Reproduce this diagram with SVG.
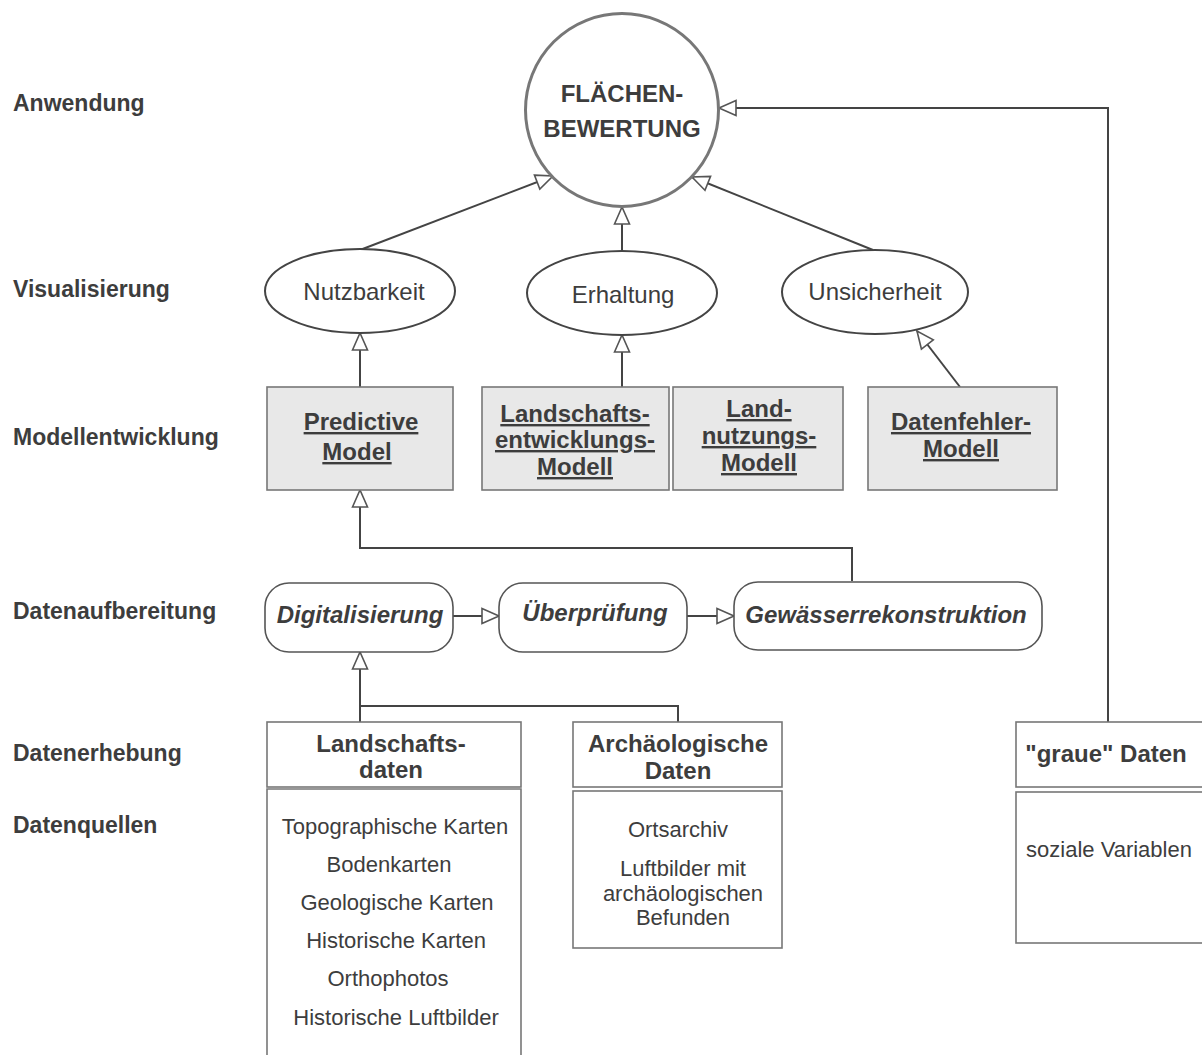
<svg xmlns="http://www.w3.org/2000/svg" width="1202" height="1055" viewBox="0 0 1202 1055">
<defs>
<style>
text{font-family:"Liberation Sans",Arial,sans-serif;fill:#3d3d3d}
.lbl{font-size:23px;font-weight:bold}
.b{font-size:24px;font-weight:bold;text-anchor:middle}
.u{text-decoration:underline}
.r{font-size:24px;text-anchor:middle}
.s{font-size:22px;text-anchor:middle}
.bi{font-size:24px;font-weight:bold;font-style:italic;text-anchor:middle}
.box{fill:#fff;stroke:#777;stroke-width:1.6}
.mbox{fill:#e8e8e8;stroke:#777;stroke-width:1.6}
.ell{fill:#fff;stroke:#444;stroke-width:2}
.pill{fill:#fff;stroke:#555;stroke-width:1.6}
.con{fill:none;stroke:#444;stroke-width:2}
</style>
<marker id="tri" markerUnits="userSpaceOnUse" markerWidth="21" markerHeight="19" viewBox="-2 -2 21 19" refX="17" refY="7.5" orient="auto">
<path d="M0,0 L17,7.5 L0,15 Z" fill="#fff" stroke="#555" stroke-width="1.6"/>
</marker>
</defs>
<rect width="1202" height="1055" fill="#fff"/>
<g id="levels">
<text class="lbl" x="13" y="111">Anwendung</text>
<text class="lbl" x="13" y="297">Visualisierung</text>
<text class="lbl" x="13" y="445">Modellentwicklung</text>
<text class="lbl" x="13" y="619">Datenaufbereitung</text>
<text class="lbl" x="13" y="761">Datenerhebung</text>
<text class="lbl" x="13" y="833">Datenquellen</text>
</g>
<g id="connectors">
<path class="con" d="M1108,722 V108 H719" marker-end="url(#tri)"/>
<path class="con" d="M360,250 L553,176" marker-end="url(#tri)"/>
<path class="con" d="M622,252 V207" marker-end="url(#tri)"/>
<path class="con" d="M873,250 L692,177" marker-end="url(#tri)"/>
<path class="con" d="M360,387 V333" marker-end="url(#tri)"/>
<path class="con" d="M622,387 V335" marker-end="url(#tri)"/>
<path class="con" d="M960,387 L917,331" marker-end="url(#tri)"/>
<path class="con" d="M852,581 V548 H360 V490" marker-end="url(#tri)"/>
<path class="con" d="M453,616 H499" marker-end="url(#tri)"/>
<path class="con" d="M687,616 H734" marker-end="url(#tri)"/>
<path class="con" d="M678,722 V706 H360"/>
<path class="con" d="M360,722 V652" marker-end="url(#tri)"/>
</g>
<g id="flaechenbewertung">
<circle cx="622" cy="110" r="96.5" fill="#fff" stroke="#777" stroke-width="3"/>
<text class="b" x="622" y="102">FLÄCHEN-</text>
<text class="b" x="622" y="137">BEWERTUNG</text>
</g>
<g id="nutzbarkeit">
<ellipse class="ell" cx="360" cy="291" rx="95" ry="42"/>
<text class="r" x="364" y="300">Nutzbarkeit</text>
</g>
<g id="erhaltung">
<ellipse class="ell" cx="622" cy="293" rx="95" ry="42"/>
<text class="r" x="623" y="303">Erhaltung</text>
</g>
<g id="unsicherheit">
<ellipse class="ell" cx="875" cy="292" rx="93" ry="42"/>
<text class="r" x="875" y="300">Unsicherheit</text>
</g>
<g id="predictive-model">
<rect class="mbox" x="267" y="387" width="186" height="103"/>
<text class="b u" x="361" y="430">Predictive</text>
<text class="b u" x="357" y="460">Model</text>
</g>
<g id="landschaftsentwicklungs-modell">
<rect class="mbox" x="482" y="387" width="187" height="103"/>
<text class="b u" x="575" y="422">Landschafts-</text>
<text class="b u" x="575" y="448">entwicklungs-</text>
<text class="b u" x="575" y="475">Modell</text>
</g>
<g id="landnutzungs-modell">
<rect class="mbox" x="673" y="387" width="170" height="103"/>
<text class="b u" x="759" y="417">Land-</text>
<text class="b u" x="759" y="444">nutzungs-</text>
<text class="b u" x="759" y="471">Modell</text>
</g>
<g id="datenfehler-modell">
<rect class="mbox" x="868" y="387" width="189" height="103"/>
<text class="b u" x="961" y="430">Datenfehler-</text>
<text class="b u" x="961" y="457">Modell</text>
</g>
<g id="digitalisierung">
<rect class="pill" x="265" y="583" width="188" height="69" rx="24"/>
<text class="bi" x="360" y="623">Digitalisierung</text>
</g>
<g id="ueberpruefung">
<rect class="pill" x="499" y="583" width="188" height="69" rx="24"/>
<text class="bi" x="595" y="621">Überprüfung</text>
</g>
<g id="gewaesserrekonstruktion">
<rect class="pill" x="734" y="582" width="308" height="68" rx="24"/>
<text class="bi" x="886" y="623">Gewässerrekonstruktion</text>
</g>
<g id="landschaftsdaten">
<rect class="box" x="267" y="722" width="254" height="65"/>
<text class="b" x="391" y="752">Landschafts-</text>
<text class="b" x="391" y="778">daten</text>
<path class="box" d="M267,1056 V789 H521 V1056"/>
<text class="s" x="395" y="834">Topographische Karten</text>
<text class="s" x="389" y="872">Bodenkarten</text>
<text class="s" x="397" y="910">Geologische Karten</text>
<text class="s" x="396" y="948">Historische Karten</text>
<text class="s" x="388" y="986">Orthophotos</text>
<text class="s" x="396" y="1025">Historische Luftbilder</text>
</g>
<g id="archaeologische-daten">
<rect class="box" x="573" y="722" width="209" height="65"/>
<text class="b" x="678" y="752">Archäologische</text>
<text class="b" x="678" y="779">Daten</text>
<rect class="box" x="573" y="791" width="209" height="157"/>
<text class="s" x="678" y="837">Ortsarchiv</text>
<text class="s" x="683" y="876">Luftbilder mit</text>
<text class="s" x="683" y="901">archäologischen</text>
<text class="s" x="683" y="925">Befunden</text>
</g>
<g id="graue-daten">
<rect class="box" x="1016" y="722" width="190" height="65"/>
<text class="b" x="1106" y="762">"graue" Daten</text>
<rect class="box" x="1016" y="792" width="190" height="151"/>
<text class="s" x="1109" y="857">soziale Variablen</text>
</g>
</svg>
